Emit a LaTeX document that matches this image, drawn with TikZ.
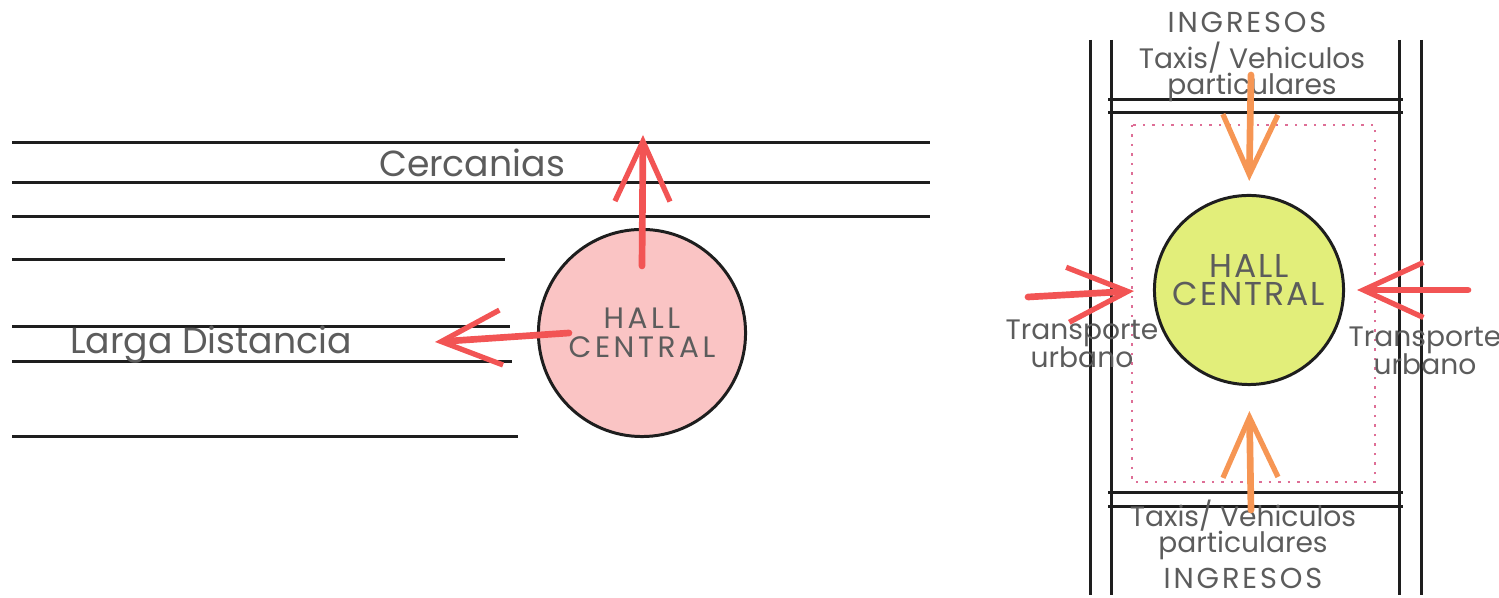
\documentclass[tikz,border=0pt]{standalone}
\usepackage{fontspec}
\setmainfont{Poppins}
\usetikzlibrary{arrows.meta}

\definecolor{hallpink}{RGB}{250,196,196}
\definecolor{hallgreen}{RGB}{226,238,122}
\definecolor{flowred}{RGB}{242,84,84}
\definecolor{floworange}{RGB}{246,150,84}
\definecolor{plotpink}{RGB}{222,110,150}
\definecolor{inkgrey}{RGB}{92,92,92}
\definecolor{inkblack}{RGB}{30,30,30}

\begin{document}
\begin{tikzpicture}[x=0.01cm,y=-0.01cm,
    track/.style={line width=0.85pt, color=inkblack},
    flow/.style={line width=1.9pt, line cap=round,
      -{Straight Barb[length=6mm,width=5.5mm,line width=1.5pt]}},
    tag/.style={text=inkgrey, inner sep=0pt, align=center,
      execute at begin node={\lineskiplimit=-10pt\relax}},
    hall/.style={circle, draw=inkblack, line width=0.85pt, inner sep=0pt,
      text=inkgrey, align=center}]
  \useasboundingbox (0,0) rectangle (1499,598);

  % tracks, left plan
  \foreach \y in {143,183,217}
    \draw[track] (12,\y) -- (930,\y);
  \foreach \y/\e in {260/505,327/510,362/512,437/518}
    \draw[track] (12,\y) -- (\e,\y);

  \node[tag, font=\fontsize{10.3}{12}\selectfont] (cercanias) at (472,163) {Cercanias};
  \node[tag, font=\fontsize{10.3}{12}\selectfont] (larga) at (211,345) {Larga Distancia};

  \node[hall, fill=hallpink, minimum size=2.07cm,
        font=\fontsize{8.4}{8.2}\selectfont\addfontfeature{LetterSpace=12}] (hallL) at (642,333) {HALL\\CENTRAL};

  \coordinate (cercaniasOut) at (643,135);
  \coordinate (largaOut) at (435,342);
  \draw[flow, flowred] ([yshift=-0.38cm]hallL.north) -- (cercaniasOut);
  \draw[flow, flowred] ([xshift=0.32cm]hallL.west) -- (largaOut);

  % street edges, right plan
  \foreach \x in {1090,1111,1399,1421}
    \draw[track] (\x,40) -- (\x,595);
  \foreach \y in {100,113,493,507}
    \draw[track] (1108,\y) -- (1403,\y);
  \draw[plotpink, line width=0.7pt, dotted] (1132,125) rectangle (1375,482);

  \node[hall, fill=hallgreen, minimum size=1.89cm] (hallR) at (1249,290) {};
  \node[tag, font=\fontsize{9.4}{8}\selectfont\addfontfeature{LetterSpace=6}] (hallRtext) at (1249,280) {HALL\\CENTRAL};

  \node[tag, font=\fontsize{8.2}{9}\selectfont\addfontfeature{LetterSpace=10}] (ingresosTop) at (1247,22) {INGRESOS};
  \node[tag, font=\fontsize{8.2}{9}\selectfont\addfontfeature{LetterSpace=10}] (ingresosBot) at (1243,578) {INGRESOS};
  \node[tag, font=\fontsize{8}{7.6}\selectfont] (taxisTop) at (1252,72) {Taxis/ Vehiculos\\particulares};
  \node[tag, font=\fontsize{8}{7.6}\selectfont] (taxisBot) at (1243,530) {Taxis/ Vehiculos\\particulares};
  \node[tag, font=\fontsize{8}{8.1}\selectfont] (urbanoL) at (1082,344) {Transporte\\urbano};
  \node[tag, font=\fontsize{8}{8.1}\selectfont] (urbanoR) at (1425,351) {Transporte\\urbano};

  \coordinate (taxisTopIn) at (1251,75);
  \coordinate (taxisBotIn) at (1251,510);
  \coordinate (urbanoLIn) at (1028,297);
  \coordinate (urbanoRIn) at (1468,290);
  \draw[flow, floworange, shorten >=0.13cm] (taxisTopIn) -- (hallR.north);
  \draw[flow, floworange, shorten >=0.25cm] (taxisBotIn) -- (hallR.south);
  \draw[flow, flowred, shorten >=0.19cm] (urbanoLIn) -- (hallR.west);
  \draw[flow, flowred, shorten >=0.12cm] (urbanoRIn) -- (hallR.east);
\end{tikzpicture}
\end{document}
